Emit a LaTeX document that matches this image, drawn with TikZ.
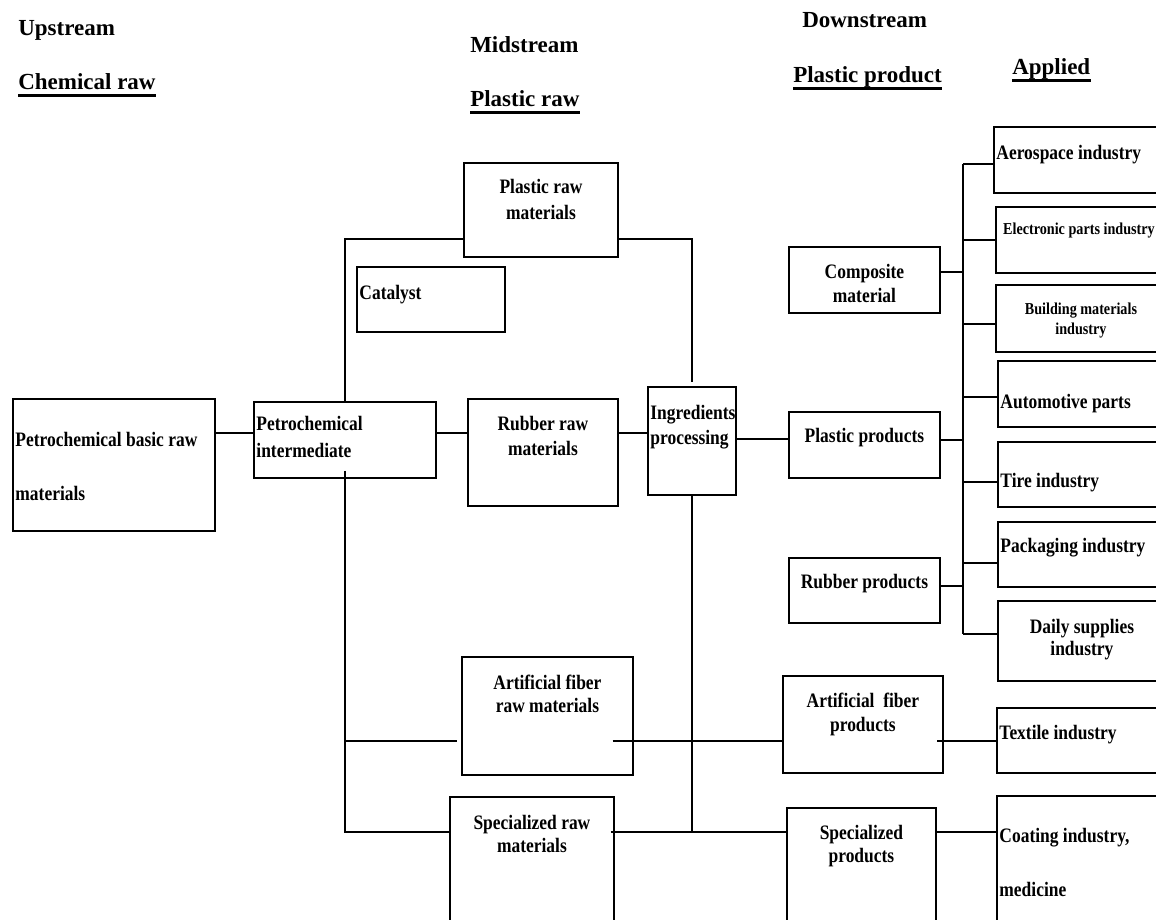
\documentclass[tikz,border=0pt]{standalone}
\usepackage{fontspec}
\newfontfamily\headfam{Liberation Serif Bold}
\newfontfamily\boxfam[FakeStretch=0.85]{Liberation Serif Bold}
\usetikzlibrary{positioning}

% one pixel of the drawing
\newdimen\pxu \pxu=0.75pt
% box texts: width, height, top pad, text
\newcommand{\cbx}[4]{\parbox[t][#2\pxu][t]{#1\pxu}{\centering\vspace*{#3\pxu}#4\par}}
\newcommand{\lbx}[4]{\parbox[t][#2\pxu][t]{#1\pxu}{\raggedright\leftskip=2.5\pxu\vspace*{#3\pxu}#4\par}}

\tikzset{
  hd/.style={font=\headfam\fontsize{17.25}{20}\selectfont, inner sep=0pt, anchor=base west},
  ul/.style={line width=2.2pt},
  blk/.style={draw, line width=1.4pt, inner sep=0pt, anchor=north west,
    font=\boxfam\fontsize{15.4}{18.75}\selectfont},
  blksm/.style={blk, font=\boxfam\fontsize{12.5}{15}\selectfont},
  lnk/.style={line width=1.4pt}
}

\begin{document}
\begin{tikzpicture}[x=0.75pt, y=-0.75pt]
    \useasboundingbox (0,0) rectangle (1156,920);

    % Stage titles
    \node[hd] (hup) at (18,35.6) {Upstream};
    \node[hd] (hchem) at (18,90) {Chemical raw};
    \node[hd] (hmid) at (470,53) {Midstream};
    \node[hd] (hplraw) at (470,107) {Plastic raw};
    \node[hd] (hdown) at (802,28) {Downstream};
    \node[hd] (hplprod) at (793,83) {Plastic product};
    \node[hd] (happ) at (1012,75) {Applied};
    \foreach \h in {hchem, hplraw, hplprod, happ} {
        \draw[ul] ([yshift=-4pt]\h.base west) -- ([yshift=-4pt]\h.base east);
    }

    % Upstream and midstream boxes
    \node[blk] (basic) at (12,398) {\lbx{202}{132}{33.6}{Petrochemical basic raw\\[29\pxu]materials}};
    \node[blk] (inter) at (253,401) {\lbx{182}{76}{14.6}{Petrochemical\\[2\pxu]intermediate}};
    \node[blk] (plraw) at (463,162) {\cbx{154}{94}{16.6}{Plastic raw\\[1\pxu]materials}};
    \node[blk] (catal) at (356,266) {\lbx{148}{65}{18.6}{Catalyst}};
    \node[blk] (rubraw) at (467,398) {\cbx{150}{107}{17.6}{Rubber raw\\materials}};
    \node[blk] (ingr) at (647,386) {\lbx{88}{108}{18.6}{Ingredients\\processing}};
    \node[blk] (artraw) at (461,656) {\cbx{171}{118}{18.6}{Artificial fiber\\[-2\pxu]raw materials}};
    \node[blk] (specraw) at (449,796) {\cbx{164}{134}{18.6}{Specialized raw\\[-2\pxu]materials}};

    % Downstream boxes
    \node[blk] (compo) at (788,246) {\cbx{151}{66}{17.6}{Composite\\[-1\pxu]material}};
    \node[blk] (plprod) at (788,411) {\cbx{151}{66}{16.6}{Plastic products}};
    \node[blk] (rubprod) at (788,557) {\cbx{151}{65}{16.6}{Rubber products}};
    \node[blk] (artprod) at (782,675) {\cbx{160}{97}{17.6}{Artificial\ \ fiber\\[-1\pxu]products}};
    \node[blk] (specprod) at (786,807) {\cbx{149}{123}{17.6}{Specialized\\[-2\pxu]products}};

    % Applications
    \node[blk] (aero) at (993,126) {\lbx{172}{66}{18.6}{Aerospace industry}};
    \node[blksm] (elec) at (995,206) {\cbx{166}{66}{16}{Electronic parts industry}};
    \node[blksm] (build) at (995,284) {\cbx{170}{67}{18}{Building materials\\industry}};
    \node[blk] (auto) at (997,360) {\lbx{168}{66}{33.6}{Automotive parts}};
    \node[blk] (tire) at (997,441) {\lbx{168}{65}{31.6}{Tire industry}};
    \node[blk] (pack) at (997,521) {\lbx{168}{65}{16.6}{Packaging industry}};
    \node[blk] (daily) at (997,600) {\cbx{168}{80}{18.6}{Daily supplies\\[-3\pxu]industry}};
    \node[blk] (textile) at (996,707) {\lbx{169}{65}{17.6}{Textile industry}};
    \node[blk] (coat) at (996,795) {\lbx{169}{135}{32.6}{Coating industry,\\[29\pxu]medicine}};

    % Line levels
    \coordinate (lvtop) at (0,239);
    \coordinate (lvmain) at (0,433);
    \coordinate (lvplp) at (0,439);
    \coordinate (lvfib) at (0,741);
    \coordinate (lvspec) at (0,832);
    \coordinate (bustop) at (963,164);
    \coordinate (busbot) at (963,634);

    % Main chain
    \draw[lnk] (basic.east |- lvmain) -- (inter.west |- lvmain);
    \draw[lnk] (inter.east |- lvmain) -- (rubraw.west |- lvmain);
    \draw[lnk] (rubraw.east |- lvmain) -- (ingr.west |- lvmain);
    \draw[lnk] (ingr.east |- lvplp) -- (plprod.west |- lvplp);

    % Plastic raw loop
    \draw[lnk] (inter.north) |- (plraw.west |- lvtop);
    \draw[lnk] (plraw.east |- lvtop) -| ([yshift=3pt]ingr.north);

    % Down to fibre and specialized
    \draw[lnk] ([yshift=6pt]inter.south) -- (inter.south |- lvspec) -- (specraw.west |- lvspec);
    \draw[lnk] (inter.south |- lvfib) -- ([xshift=-3pt]artraw.west |- lvfib);
    \draw[lnk] ([xshift=-16pt]artraw.east |- lvfib) -- (artprod.west |- lvfib);
    \draw[lnk] (ingr.south) -- (ingr.south |- lvspec);
    \draw[lnk] ([xshift=-3pt]specraw.east |- lvspec) -- (specprod.west |- lvspec);
    \draw[lnk] ([xshift=-5pt]artprod.east |- lvfib) -- (textile.west |- lvfib);
    \draw[lnk] (specprod.east |- lvspec) -- (coat.west |- lvspec);

    % Bus to applications
    \draw[lnk] (bustop) -- (busbot);
    \draw[lnk] (compo.east |- 0,272) -- (bustop |- 0,272);
    \draw[lnk] (plprod.east |- 0,440) -- (bustop |- 0,440);
    \draw[lnk] (rubprod.east |- 0,586) -- (bustop |- 0,586);
    \foreach \dst/\yy in {aero/164, elec/240, build/324, auto/397, tire/482, pack/563, daily/634} {
        \draw[lnk] (bustop |- 0,\yy) -- (\dst.west |- 0,\yy);
    }
\end{tikzpicture}
\end{document}
